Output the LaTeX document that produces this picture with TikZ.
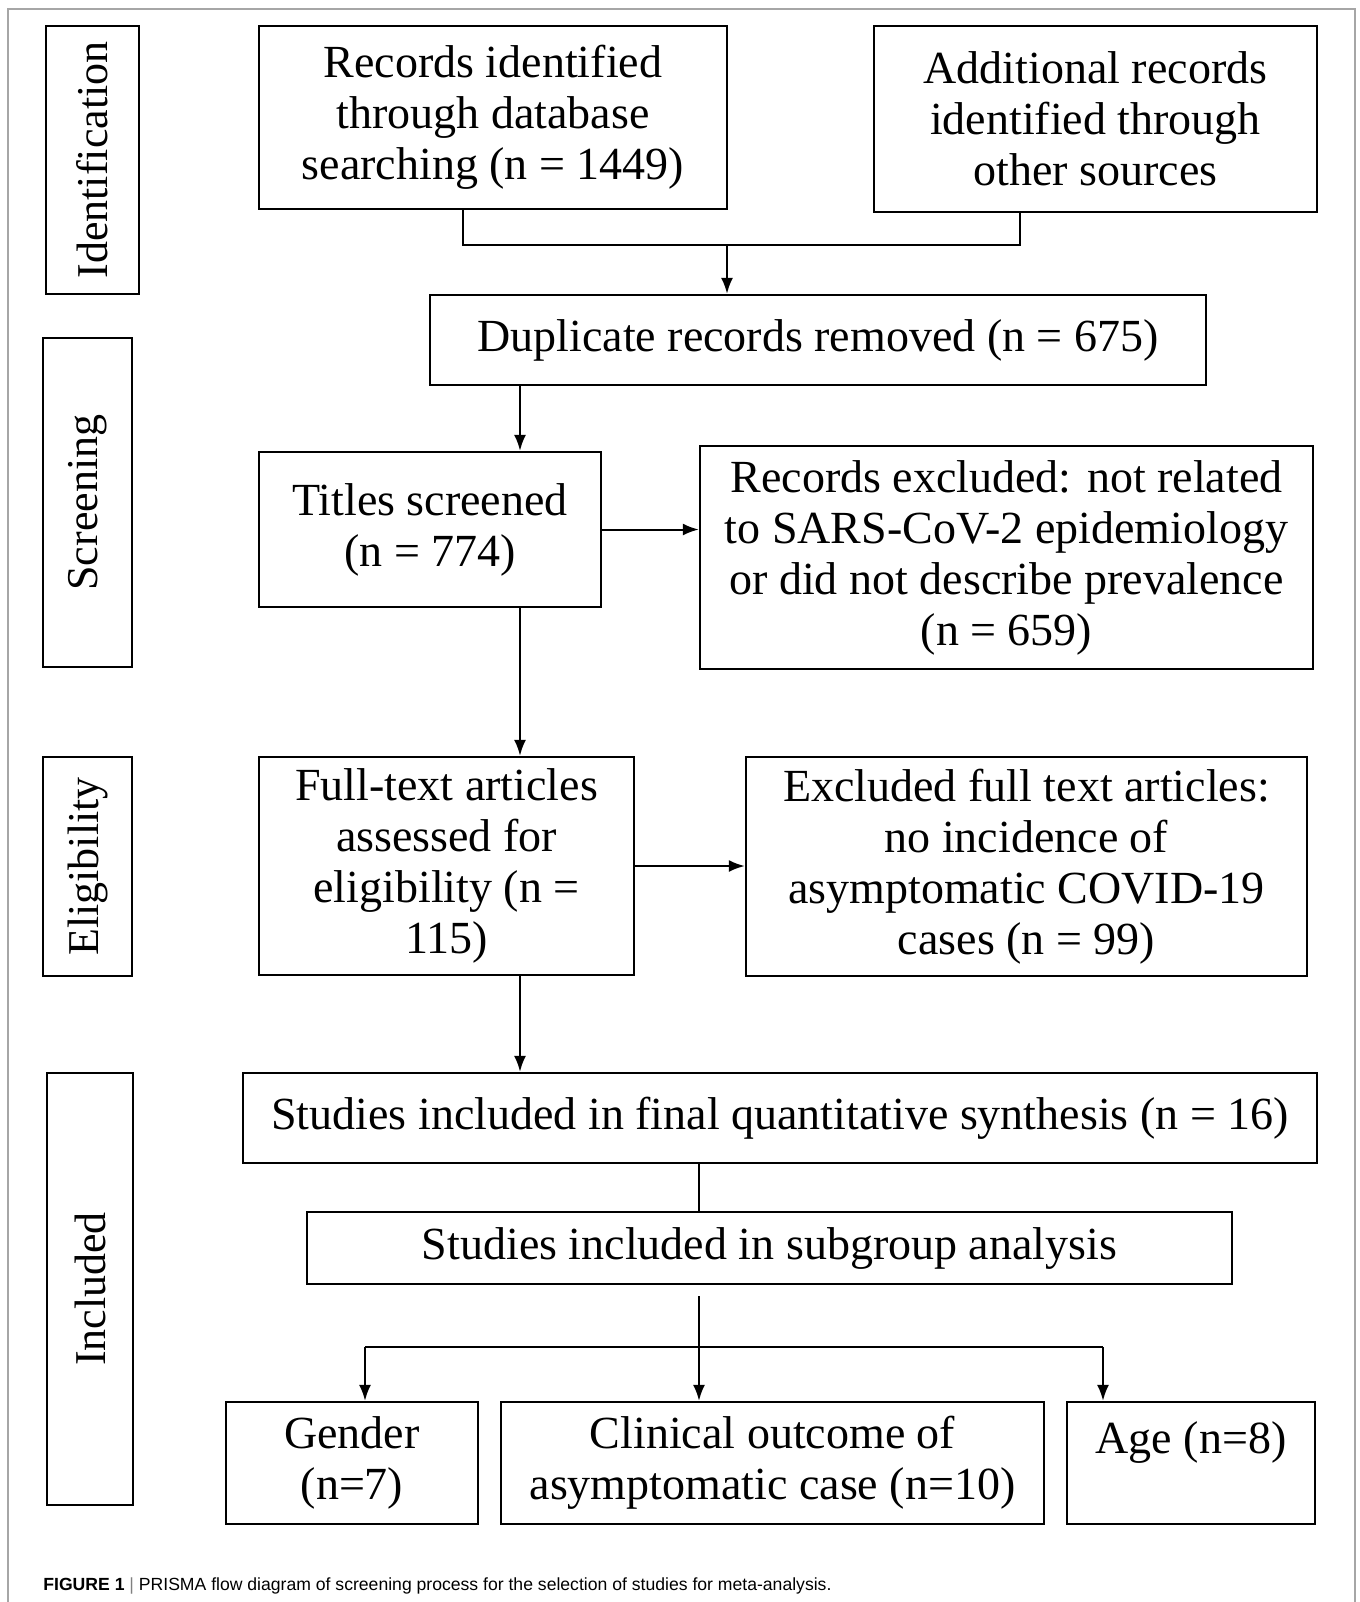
\documentclass[tikz,border=0pt]{standalone}
\usepackage{fontspec}
\setmainfont{Liberation Serif}
\newfontfamily\capfont{Liberation Sans}
\usetikzlibrary{arrows.meta}

\begin{document}
\begin{tikzpicture}[x = 0.5pt, y = -0.5pt,
        box/.style = {draw, line width = 1.2pt, align = center, inner sep = 0pt,
            font = \fontsize{23}{25.5}\selectfont},
        stage/.style = {box, rotate = 90, font = \fontsize{22}{25}\selectfont},
        link/.style = {line width = 1pt},
        arr/.style = {link, -{Latex[length = 8pt, width = 6pt]}}]
    \useasboundingbox (0,0) rectangle (1360,1602);
    % frame round the figure
    \draw[gray!70, line width = 1pt] (8,1602) -- (8,9) -- (1355,9) -- (1355,1602);

    % stages
    \node[stage, minimum width = 134pt, minimum height = 46.5pt] (ident) at (92.5,160) {Identification};
    \node[stage, minimum width = 164.5pt, minimum height = 44.5pt] (screen) at (87.5,502.5) {Screening};
    \node[stage, minimum width = 109.5pt, minimum height = 44.5pt] (elig) at (87.5,866.5) {Eligibility};
    \node[stage, minimum width = 216pt, minimum height = 43pt] (incl) at (90,1289) {Included};

    % boxes
    \node[box, minimum width = 234pt, minimum height = 91.5pt] (rec) at (493,117.5)
        {Records identified\\through database\\searching (n = 1449)};
    \node[box, minimum width = 221.5pt, minimum height = 93pt] (add) at (1095.5,119)
        {Additional records\\identified through\\other sources};
    \node[box, minimum width = 388pt, minimum height = 45pt] (dup) at (818,340)
        {Duplicate records removed (n = 675)};
    \node[box, minimum width = 171pt, minimum height = 77.5pt] (titles) at (430,529.5)
        {Titles screened\\(n = 774)};
    \node[box, minimum width = 306.5pt, minimum height = 111.5pt] (exrec) at (1006.5,557.5)
        {Records excluded: not related\\to SARS-CoV-2 epidemiology\\or did not describe prevalence\\(n = 659)};
    \node[box, minimum width = 187.5pt, minimum height = 109pt] (full) at (446.5,866)
        {Full-text articles\\assessed for\\eligibility (n =\\115)};
    \node[box, minimum width = 280.5pt, minimum height = 109.5pt] (exfull) at (1026.5,866.5)
        {Excluded full text articles:\\no incidence of\\asymptomatic COVID-19\\cases (n = 99)};
    \node[box, minimum width = 537pt, minimum height = 45pt] (final) at (780,1118)
        {Studies included in final quantitative synthesis (n = 16)};
    \node[box, minimum width = 462.5pt, minimum height = 36pt] (sub) at (769.5,1248)
        {Studies included in subgroup analysis};
    \node[box, minimum width = 126pt, minimum height = 61pt] (gender) at (352,1463)
        {Gender\\(n=7)};
    \node[box, minimum width = 271.5pt, minimum height = 61pt] (clin) at (772.5,1463)
        {Clinical outcome of\\asymptomatic case (n=10)};
    \node[box, minimum width = 124pt, minimum height = 61pt] (age) at (1191,1463)
        {Age (n=8)\\\mbox{}};

    % connectors
    \coordinate (jl) at (463,245);
    \coordinate (jr) at (1020,245);
    \coordinate (jm) at (727,245);
    \coordinate (spine) at (520,0);
    \coordinate (mid) at (699,0);
    \coordinate (fork) at (699,1296);
    \coordinate (hl) at (365,1347);
    \coordinate (hr) at (1103,1347);

    \draw[link] (rec.south -| jl) -- (jl) -- (jr) -- (add.south -| jr);
    \draw[arr] (jm) -- (jm |- dup.north);
    \draw[arr] (dup.south -| spine) -- (titles.north -| spine);
    \draw[arr] (titles.east) -- (titles.east -| exrec.west);
    \draw[arr] (titles.south -| spine) -- (full.north -| spine);
    \draw[arr] (full.east) -- (full.east -| exfull.west);
    \draw[arr] (full.south -| spine) -- (final.north -| spine);
    \draw[link] (final.south -| mid) -- (sub.north -| mid);
    \draw[arr] (fork) -- (fork |- clin.north);
    \draw[link] (hl) -- (hr);
    \draw[arr] (hl) -- (hl |- gender.north);
    \draw[arr] (hr) -- (hr |- age.north);

    % caption
    \node[anchor = west, inner sep = 0pt, font = \capfont\fontsize{8.8}{10}\selectfont] (cap) at (43,1586)
        {\textbf{FIGURE 1} {\color{gray}|} PRISMA flow diagram of screening process for the selection of studies for meta-analysis.};
\end{tikzpicture}
\end{document}
